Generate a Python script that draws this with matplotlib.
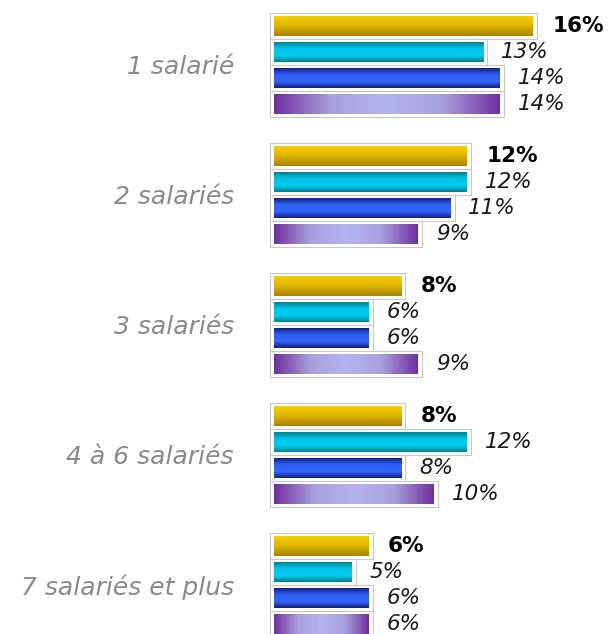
import numpy as np
import matplotlib
matplotlib.use("Agg")
from matplotlib import pyplot as plt
from matplotlib.colors import LinearSegmentedColormap
from matplotlib.patches import Rectangle

categories = ["1 salarié", "2 salariés", "3 salariés", "4 à 6 salariés", "7 salariés et plus"]
serie_1 = [16, 12, 8, 8, 6]
serie_2 = [13, 12, 6, 12, 5]
serie_3 = [14, 11, 6, 8, 6]
serie_4 = [14, 9, 9, 10, 6]
series = [serie_1, serie_2, serie_3, serie_4]

# gradient stops per series (vertical for the first three, horizontal for the last)
gradients = [
    (["#f6cf00", "#dcb400", "#a88200"], "v"),
    (["#00838e", "#00c4ea", "#00cdf2", "#00838e"], "v"),
    (["#14208a", "#2f5ff2", "#3366ff", "#122080"], "v"),
    (["#7030a0", "#a8a0dc", "#b4b4ee", "#a8a0dc", "#7030a0"], "h"),
]

fig = plt.figure(figsize=(6.10, 6.34), dpi=100)
ax = fig.add_axes([270 / 610, 0, 340 / 610, 1])
ax.set_xlim(0, 340 / 16.4)
ax.set_ylim(4.377, -0.5)
for s in ax.spines.values():
    s.set_visible(False)
ax.set_xticks([])
ax.set_yticks(range(len(categories)))
ax.set_yticklabels(categories, fontsize=18, style="italic", color="#8a8a8a")
ax.tick_params(axis="y", length=0, pad=26)

step = 0.2
h = 0.175
pad_x = 0.25
pad_y = 0.012
for j, (vals, (cols, direction)) in enumerate(zip(series, gradients)):
    cmap = LinearSegmentedColormap.from_list("g%d" % j, cols)
    if direction == "v":
        grad = np.linspace(0, 1, 64).reshape(-1, 1)
    else:
        grad = np.linspace(0, 1, 128).reshape(1, -1)
    for i, v in enumerate(vals):
        yc = i + (j - 1.5) * step
        ax.add_patch(Rectangle((0, yc - h / 2 - pad_y), v + pad_x, h + 2 * pad_y,
                               facecolor="white", edgecolor="#c8c8c8", lw=0.8, zorder=1))
        ax.imshow(grad, cmap=cmap, aspect="auto", interpolation="bilinear",
                  extent=(pad_x, v, yc + h / 2 - pad_y, yc - h / 2 + pad_y), zorder=2)
        if j == 0:
            ax.text(v + 1.2, yc, "%d%%" % v, va="center", ha="left", fontsize=15.5,
                    fontweight="bold", color="black", zorder=3)
        else:
            ax.text(v + 1.1, yc, "%d%%" % v, va="center", ha="left", fontsize=15.5,
                    style="italic", color="#1a1a1a", zorder=3)

ax.set_xlim(0, 340 / 16.4)
ax.set_ylim(4.377, -0.5)
fig.savefig("out.png", dpi=100)
